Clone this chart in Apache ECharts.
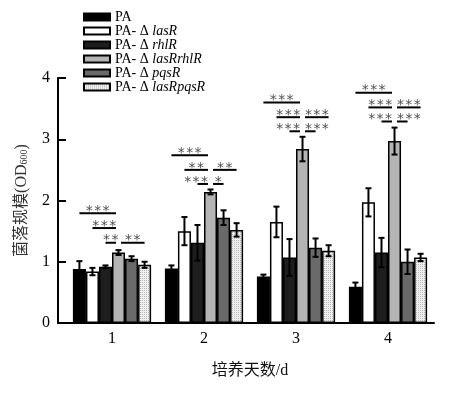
<!DOCTYPE html>
<html>
<head>
<meta charset="utf-8">
<script src="https://cdn.jsdelivr.net/npm/echarts@6/dist/echarts.min.js"></script>
<style>
  html, body { margin: 0; padding: 0; background: #fff; }
  #main { width: 451px; height: 398px; }
</style>
</head>
<body>
<div id="main"></div>
<script>
// 培养天数
const days = ['1', '2', '3', '4'];
// 菌株名称
const strains = ['PA', 'PA-ΔlasR', 'PA-ΔrhlR', 'PA-ΔlasRrhlR', 'PA-ΔpqsR', 'PA-ΔlasRpqsR'];
// 各菌株均值 (OD600)，按天
const meanPA       = [0.88, 0.89, 0.76, 0.59];
const meanLasR     = [0.84, 1.50, 1.65, 1.97];
const meanRhlR     = [0.92, 1.31, 1.07, 1.15];
const meanLasRRhlR = [1.15, 2.14, 2.84, 2.97];
const meanPqsR     = [1.05, 1.72, 1.23, 1.00];
const meanLasRPqsR = [0.95, 1.52, 1.18, 1.07];
// 标准差
const errPA       = [0.13, 0.05, 0.03, 0.07];
const errLasR     = [0.06, 0.23, 0.25, 0.23];
const errRhlR     = [0.02, 0.29, 0.30, 0.24];
const errLasRRhlR = [0.04, 0.04, 0.20, 0.22];
const errPqsR     = [0.04, 0.12, 0.15, 0.20];
const errLasRPqsR = [0.05, 0.11, 0.09, 0.06];
// 显著性标注: 天序号, 起始柱, 结束柱, 高度, 星号
const sigDay   = [0, 0, 0, 0, 1, 1, 1, 1, 1, 2, 2, 2, 2, 2, 3, 3, 3, 3, 3];
const sigFrom  = [0, 1, 2, 3, 0, 1, 3, 2, 3, 0, 1, 3, 2, 3, 0, 1, 3, 2, 3];
const sigTo    = [3, 3, 3, 5, 3, 3, 5, 3, 4, 3, 3, 5, 3, 4, 3, 3, 5, 3, 4];
const sigY     = [1.79, 1.55, 1.31, 1.31, 2.74, 2.50, 2.50, 2.27, 2.27, 3.60, 3.36, 3.36, 3.13, 3.13, 3.76, 3.52, 3.52, 3.29, 3.29];
const sigText  = ['***', '***', '**', '**', '***', '**', '**', '***', '*', '***', '***', '***', '***', '***', '***', '***', '***', '***', '***'];

const means = [meanPA, meanLasR, meanRhlR, meanLasRRhlR, meanPqsR, meanLasRPqsR];
const errs = [errPA, errLasR, errRhlR, errLasRRhlR, errPqsR, errLasRPqsR];

const SERIF = '"Liberation Serif", "Times New Roman", "Noto Sans CJK SC", serif';
const CAT_GAP = 0.15;

// 网点填充
function dotPattern() {
  const c = document.createElement('canvas');
  c.width = 4; c.height = 4;
  const ctx = c.getContext('2d');
  ctx.fillStyle = '#f0f0f0';
  ctx.fillRect(0, 0, 4, 4);
  ctx.fillStyle = '#b8b8b8';
  ctx.fillRect(0, 0, 1, 1); ctx.fillRect(2, 2, 1, 1);
  ctx.fillRect(2, 0, 1, 1); ctx.fillRect(0, 2, 1, 1);
  return c;
}

const fills = ['#000000', '#ffffff', '#1e1e1e', '#b4b4b4', '#6a6a6a', { image: dotPattern(), repeat: 'repeat' }];

document.addEventListener('DOMContentLoaded', function () {
  const chart = echarts.init(document.getElementById('main'));

  function barX(api, day, idx) {
    const band = api.size([1, 0])[0];
    const bw = band * (1 - CAT_GAP) / strains.length;
    return api.coord([day, 0])[0] + (idx - (strains.length - 1) / 2) * bw;
  }

  // 误差线
  const errData = [];
  means.forEach((arr, s) => arr.forEach((v, d) => errData.push([d, s, v, errs[s][d]])));

  function renderErr(params, api) {
    const d = api.value(0), s = api.value(1), m = api.value(2), e = api.value(3);
    const x = barX(api, d, s);
    const yt = api.coord([d, m + e])[1];
    const yb = api.coord([d, m - e])[1];
    const st = { stroke: '#000', lineWidth: 2 };
    return {
      type: 'group',
      children: [
        { type: 'line', shape: { x1: x, y1: yt, x2: x, y2: yb }, style: st },
        { type: 'line', shape: { x1: x - 3, y1: yt, x2: x + 3, y2: yt }, style: st },
        { type: 'line', shape: { x1: x - 3, y1: yb, x2: x + 3, y2: yb }, style: st }
      ]
    };
  }

  // 显著性标注
  const sigData = sigDay.map((d, i) => [d, sigY[i], sigFrom[i], sigTo[i], i]);

  function renderSig(params, api) {
    const d = api.value(0), y = api.value(1), a = api.value(2), b = api.value(3);
    const label = sigText[api.value(4)];
    const x1 = barX(api, d, a) + (a === 3 ? 2.5 : 0);
    const x2 = barX(api, d, b) - (b === 3 ? 2.5 : 0);
    const py = api.coord([d, y])[1];
    const tw = label.length * 8;
    let tx = (x1 + x2) / 2, align = 'center';
    if (tw > x2 - x1 + 6) {
      if (a === 3) { tx = x1; align = 'left'; } else { tx = x2; align = 'right'; }
    }
    return {
      type: 'group',
      children: [
        { type: 'line', shape: { x1: x1, y1: py, x2: x2, y2: py }, style: { stroke: '#000', lineWidth: 2 } },
        { type: 'text', x: tx, y: py - 2, style: { text: label.split('').join('\u200A'), fill: '#505050', font: '14px "DejaVu Sans", sans-serif', align: align, verticalAlign: 'middle' } }
      ]
    };
  }

  const barSeries = strains.map((name, s) => ({
    name: name,
    type: 'bar',
    data: means[s],
    barGap: '0%',
    barCategoryGap: (CAT_GAP * 100) + '%',
    itemStyle: { color: fills[s], borderColor: '#000', borderWidth: 1.5 },
    z: 2
  }));

  const option = {
    backgroundColor: '#fff',
    animation: false,
    textStyle: { fontFamily: SERIF },
    grid: { left: 66, right: 17, top: 78, bottom: 75 },
    legend: {
      orient: 'vertical',
      left: 78,
      top: 5,
      itemWidth: 26,
      itemHeight: 7,
      itemGap: 0,
      icon: 'rect',
      itemStyle: { borderColor: '#000', borderWidth: 2 },
      data: strains,
      formatter: function (n) {
        if (n.indexOf('Δ') < 0) return '{n|' + n + '}';
        return '{n|PA- Δ }{i|' + n.split('Δ')[1] + '}';
      },
      textStyle: {
        color: '#000',
        fontSize: 14,
        lineHeight: 14,
        rich: {
          n: { fontFamily: SERIF, fontSize: 14, color: '#000', lineHeight: 14 },
          i: { fontFamily: SERIF, fontSize: 14, fontStyle: 'italic', color: '#000', lineHeight: 14 }
        }
      }
    },
    xAxis: {
      type: 'category',
      data: days,
      name: '培养天数/d',
      nameLocation: 'middle',
      nameGap: 40,
      nameTextStyle: { color: '#111', fontSize: 16, fontFamily: SERIF },
      axisLine: { lineStyle: { color: '#000', width: 2 } },
      axisTick: { show: false },
      axisLabel: { color: '#000', fontSize: 16, fontFamily: SERIF, margin: 8 }
    },
    yAxis: {
      type: 'value',
      min: 0,
      max: 4,
      interval: 1,
      offset: 8,
      name: '{t|菌落规模(OD}{s|600}{t|)}',
      nameLocation: 'middle',
      nameGap: 28,
      nameTextStyle: {
        rich: {
          t: { fontSize: 16, color: '#333', fontFamily: SERIF },
          s: { fontSize: 10, color: '#333', fontFamily: SERIF, padding: [5, 0, 0, 0] }
        }
      },
      axisLine: { show: true, lineStyle: { color: '#000', width: 2 } },
      axisTick: { show: true, inside: true, length: 8, lineStyle: { color: '#000', width: 2 } },
      axisLabel: { color: '#000', fontSize: 16, fontFamily: SERIF, margin: 8 },
      splitLine: { show: false }
    },
    graphic: [
      // 连接偏移后的 y 轴与 x 轴
      { type: 'line', shape: { x1: 57, y1: 323, x2: 67, y2: 323 }, style: { stroke: '#000', lineWidth: 2 }, z: 10 }
    ],
    series: barSeries.concat([
      { type: 'custom', name: 'err', data: errData, renderItem: renderErr, encode: { x: 0, y: 2 }, z: 5, silent: true },
      { type: 'custom', name: 'sig', data: sigData, renderItem: renderSig, encode: { x: 0, y: 1 }, z: 5, silent: true }
    ])
  };

  chart.setOption(option);
  window.addEventListener('resize', () => chart.resize());
});
</script>
</body>
</html>
